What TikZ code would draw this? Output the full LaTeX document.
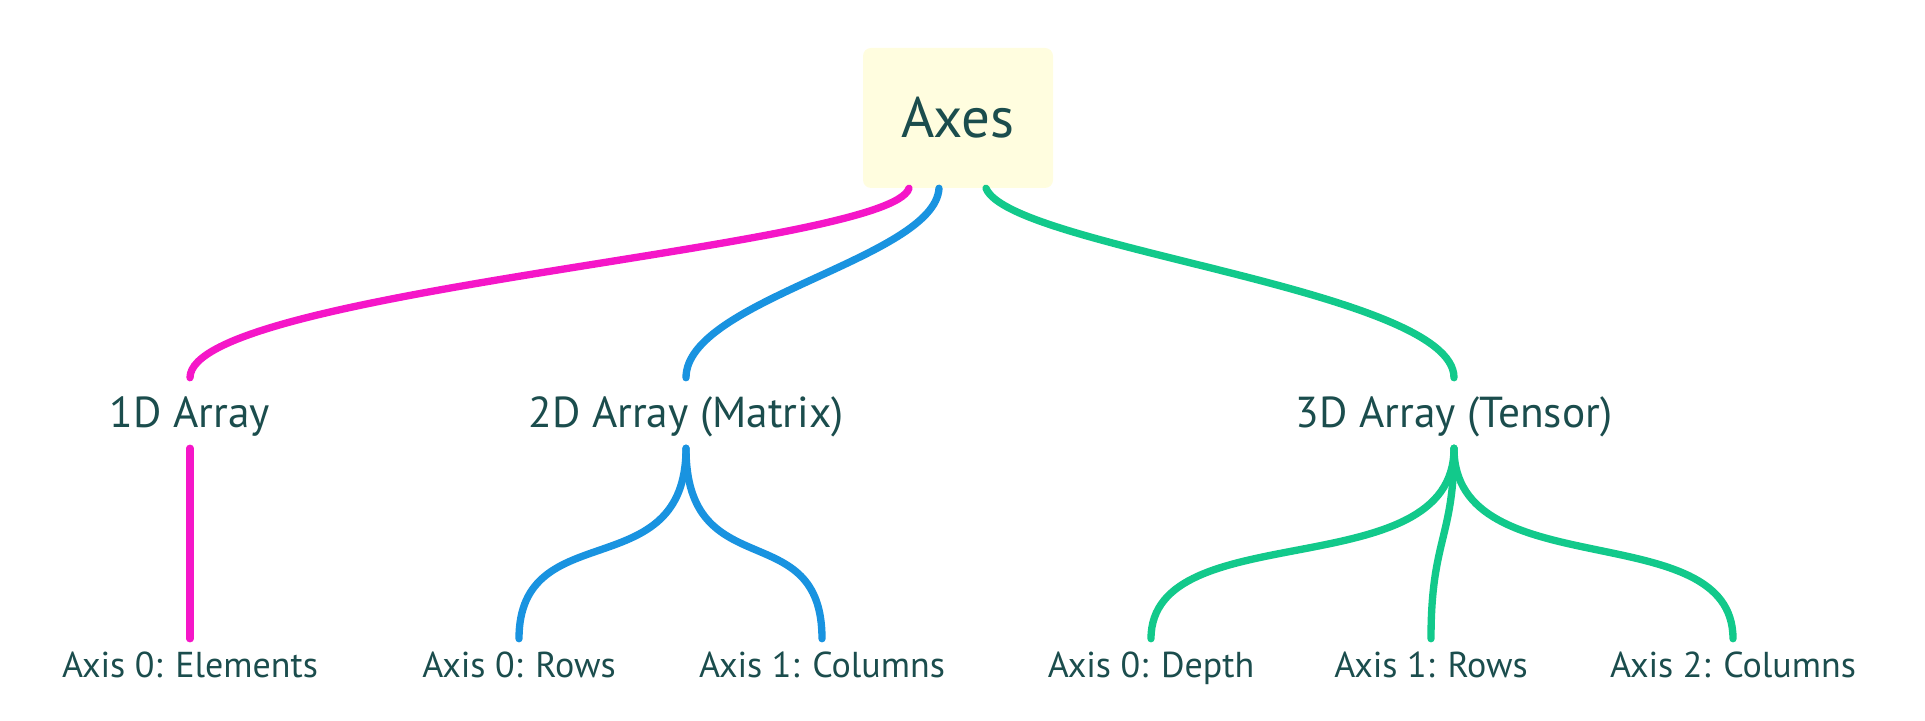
\documentclass[tikz,border=0pt]{standalone}
\usepackage{fontspec}
\setmainfont{PT Sans}
\usepackage{tikz}
\usetikzlibrary{calc}

\definecolor{txtc}{HTML}{1B4D4D}
\definecolor{rootfill}{HTML}{FFFDDF}
\definecolor{magc}{HTML}{F516C8}
\definecolor{bluec}{HTML}{1993E0}
\definecolor{greenc}{HTML}{12C98B}

\begin{document}
\begin{tikzpicture}[x=0.75pt, y=0.75pt, line cap=round,
      rootbox/.style={rectangle,rounded corners=6pt,fill=rootfill,text=txtc,
        minimum width=142.5pt,minimum height=105pt,inner sep=0pt,
        text height=29.9pt,text depth=0pt,font=\fontsize{42.7}{50}\selectfont},
      branch/.style={text=txtc,inner sep=0pt,minimum height=52.5pt,
        text height=22.4pt,text depth=0pt,font=\fontsize{32.5}{38}\selectfont},
      leaf/.style={text=txtc,inner sep=0pt,minimum height=39pt,
        text height=18.9pt,text depth=0pt,font=\fontsize{27}{32}\selectfont},
      link/.style={line width=5.5pt}]
      \useasboundingbox (0,0) rectangle (1925,721);
      \node[rootbox] at (958,603) (axes) {Axes};
      \node[branch]  at (190,308)  (one) {1D Array};
      \node[branch]  at (686,308)  (two) {2D Array (Matrix)};
      \node[branch]  at (1454,308) (three) {3D Array (Tensor)};
      \node[leaf] at (190,56)  (oneelem) {Axis 0: Elements};
      \node[leaf] at (519,56)  (tworows) {Axis 0: Rows};
      \node[leaf] at (822,56)  (twocols) {Axis 1: Columns};
      \node[leaf] at (1151,56) (threedepth) {Axis 0: Depth};
      \node[leaf] at (1431,56) (threerows) {Axis 1: Rows};
      \node[leaf] at (1733,56) (threecols) {Axis 2: Columns};
      % root to arrays
      \draw[link,magc] ($(axes.south)+(-49,0)$) .. controls +(-19,-60) and +(0,88) .. (one.north);
      \draw[link,bluec] ($(axes.south)+(-19,0)$) .. controls +(-4,-70) and +(0,78) .. (two.north);
      \draw[link,greenc] ($(axes.south)+(28,0)$) .. controls +(24,-60) and +(0,88) .. (three.north);
      % arrays to axes
      \draw[link,magc] (one.south) -- (oneelem.north);
      \draw[link,bluec] (two.south) .. controls +(0,-140) and +(0,125) .. (tworows.north);
      \draw[link,bluec] (two.south) .. controls +(0,-140) and +(0,125) .. (twocols.north);
      \draw[link,greenc] (three.south) .. controls +(0,-140) and +(0,125) .. (threedepth.north);
      \draw[link,greenc] (three.south) .. controls +(0,-90) and +(0,100) .. (threerows.north);
      \draw[link,greenc] (three.south) .. controls +(0,-140) and +(0,125) .. (threecols.north);
    \end{tikzpicture}
\end{document}
